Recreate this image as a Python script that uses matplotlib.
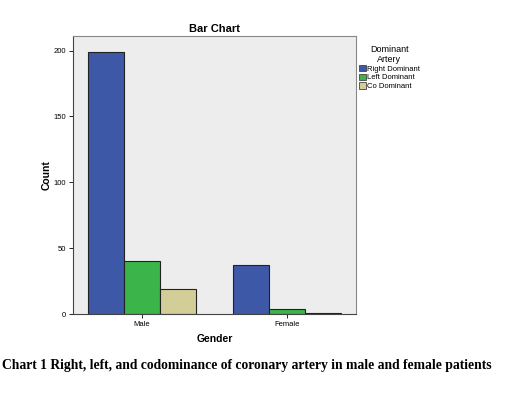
import matplotlib
matplotlib.use("Agg")
import matplotlib.pyplot as plt
from matplotlib.patches import Patch
import numpy as np

plt.rcParams['font.family'] = ['Liberation Sans', 'DejaVu Sans']

genders = ["Male", "Female"]
series = ["Right Dominant", "Left Dominant", "Co Dominant"]
right_dom = [199, 37]
left_dom = [40, 4]
co_dom = [19, 1]
colors = ["#3E58A8", "#3BB54A", "#D3CE97"]

fig = plt.figure(figsize=(5.07, 3.93), dpi=100)
ax = fig.add_axes([0.144, 0.201, 0.558, 0.707])
ax.set_facecolor("#EDEDED")

x = np.arange(len(genders))
w = 0.25
for i, (vals, c) in enumerate(zip([right_dom, left_dom, co_dom], colors)):
    ax.bar(x + (i - 1) * w, vals, w, color=c, edgecolor="#222222", linewidth=0.8)

ax.set_xlim(-0.476, 1.476)
ax.set_ylim(0, 211)
ax.set_yticks([0, 50, 100, 150, 200])
ax.set_xticks(x)
ax.set_xticklabels(genders)
ax.tick_params(labelsize=5.5, length=3, width=0.6, pad=2)
for s in ax.spines.values():
    s.set_color("#888888")
    s.set_linewidth(0.8)
ax.spines['bottom'].set_color("#444444")
ax.spines['left'].set_color("#444444")

ax.set_title("Bar Chart", fontsize=8, fontweight="bold", pad=3)
ax.set_ylabel("Count", fontsize=7.5, fontweight="bold", labelpad=1)
ax.set_xlabel("Gender", fontsize=7.5, fontweight="bold", labelpad=4)

handles = [Patch(facecolor=c, edgecolor="#444444", linewidth=0.6) for c in colors]
leg = fig.legend(handles, series, title="Dominant\nArtery", loc="upper left",
                 bbox_to_anchor=(0.697, 0.90), frameon=False, fontsize=5.5,
                 title_fontsize=6.5, handlelength=0.9, handleheight=0.9,
                 handletextpad=0.2, labelspacing=0.12, borderpad=0.2)
leg.get_title().set_multialignment("center")
leg._legend_box.align = "center"

fig.text(0.004, 0.062, "Chart 1 Right, left, and codominance of coronary artery in male and female patients",
         fontsize=9.8, fontweight="bold", family=["Liberation Serif", "DejaVu Serif"])

fig.savefig("out.png", dpi=100)
